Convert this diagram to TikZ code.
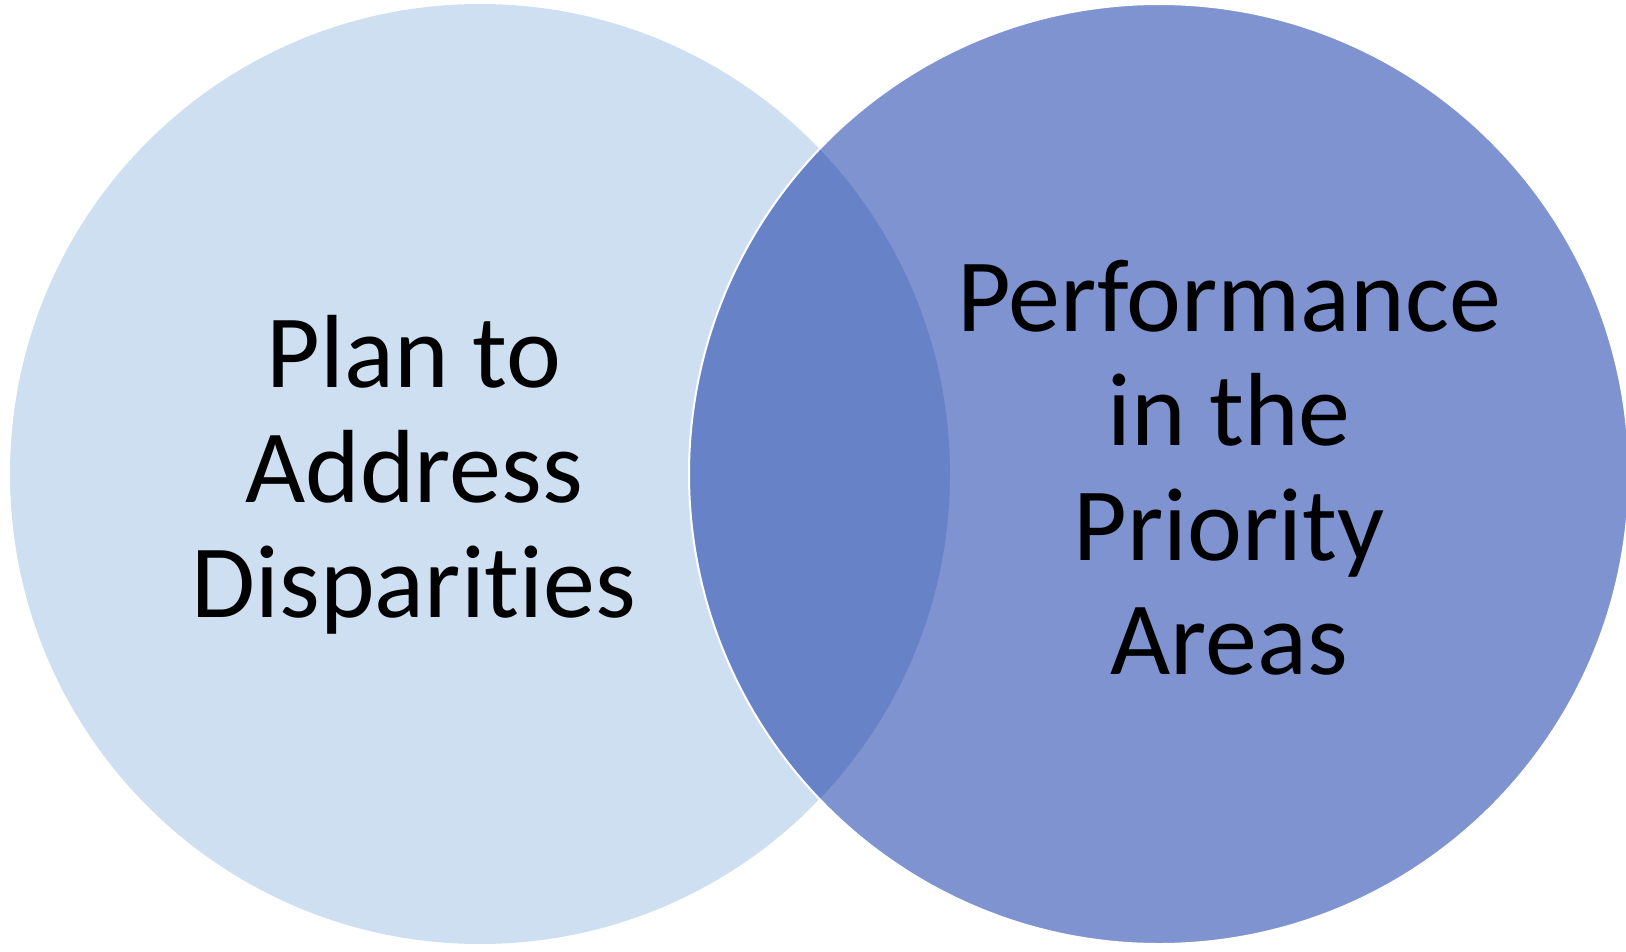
\documentclass[tikz,border=0pt]{standalone}
\usepackage{fontspec}
\setmainfont{Carlito}[Ligatures={NoCommon,NoRare,NoContextual}]
\definecolor{plancol}{RGB}{205,223,240}
\definecolor{perfcol}{RGB}{127,147,209}
\definecolor{bothcol}{RGB}{104,130,200}
\begin{document}
\begin{tikzpicture}[x=1pt,y=-1pt,
  lbl/.style={anchor=base,inner sep=0pt,font=\fontsize{104}{115}\selectfont}]
\useasboundingbox (0,0) rectangle (1626,951);
\clip (0,0) rectangle (1626,951);
% the two sets
\coordinate (cl) at (480,474);
\coordinate (cr) at (1159,474);
\fill[plancol] (cl) circle[radius=470pt];
\fill[perfcol] (cr) circle[radius=470pt];
% their intersection
\begin{scope}
  \clip (cl) circle[radius=470pt];
  \fill[bothcol] (cr) circle[radius=470pt];
\end{scope}
\draw[white,line width=2pt] (cr) circle[radius=470pt];
% labels
\node[lbl] (plan1) at (414,387) {Plan to};
\node[lbl] (plan2) at (414,502) {Address};
\node[lbl] (plan3) at (414,617) {Disparities};
\node[lbl] (perf1) at (1229,331) {Performance};
\node[lbl] (perf2) at (1229,445) {in the};
\node[lbl] (perf3) at (1229,560) {Priority};
\node[lbl] (perf4) at (1229,674) {Areas};
\end{tikzpicture}
\end{document}
